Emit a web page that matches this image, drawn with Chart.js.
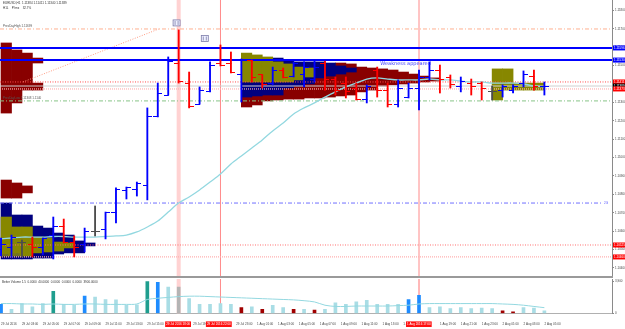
<!DOCTYPE html>
<html>
<head>
<meta charset="utf-8">
<script src="https://cdn.jsdelivr.net/npm/chart.js@4.4.0/dist/chart.umd.min.js"></script>
<style>
  body { margin: 0; background: #fff; }
  #wrap { position: relative; width: 625px; height: 329px; overflow: hidden; background: #fff; }
  #mainBox { position: absolute; left: 0; top: 0; width: 625px; height: 277px; }
  #volBox { position: absolute; left: 0; top: 278px; width: 625px; height: 51px; }
  #sep { position: absolute; left: 0; top: 276px; width: 613px; height: 2px; background: #9a9a9a; }
</style>
</head>
<body>
<div id="wrap">
  <div id="mainBox"><canvas id="main"></canvas></div>
  <div id="sep"></div>
  <div id="volBox"><canvas id="vol"></canvas></div>
</div>
<script>
// ===== EURUSD H1, 29 Jul 2016 01:00 -> 2 Aug 2016 05:00 =====
const opens = [1.10498,1.10514,1.10536,1.10530,1.10509,1.10574,1.10628,1.10536,1.10530,1.10596,
  1.10607,1.10699,1.10819,1.10829,1.10846,1.11226,1.11340,1.11514,1.11400,1.11291,
  1.11357,1.11509,1.11509,1.11454,1.11525,1.11449,1.11405,1.11476,1.11443,1.11449,
  1.11422,1.11514,1.11422,1.11400,1.11378,1.11313,1.11476,1.11367,1.11286,1.11324,
  1.11378,1.11433,1.11476,1.11438,1.11384,1.11405,1.11405,1.11357,1.11367,1.11367,
  1.11405,1.11443,1.11384];
const highs = [1.10563,1.10579,1.10552,1.10568,1.10563,1.10677,1.10666,1.10574,1.10617,1.10737,
  1.10704,1.10835,1.10840,1.10867,1.11270,1.11405,1.11547,1.11694,1.11465,1.11384,
  1.11520,1.11612,1.11574,1.11536,1.11530,1.11449,1.11492,1.11487,1.11520,1.11520,
  1.11525,1.11525,1.11438,1.11438,1.11405,1.11395,1.11492,1.11405,1.11422,1.11405,
  1.11476,1.11520,1.11503,1.11449,1.11438,1.11427,1.11411,1.11389,1.11395,1.11395,
  1.11471,1.11476,1.11411];
const lows = [1.10465,1.10460,1.10460,1.10460,1.10471,1.10449,1.10536,1.10460,1.10487,1.10574,
  1.10558,1.10645,1.10775,1.10791,1.10770,1.11221,1.11340,1.11405,1.11270,1.11291,
  1.11357,1.11498,1.11460,1.11302,1.11411,1.11378,1.11395,1.11433,1.11438,1.11384,
  1.11411,1.11367,1.11340,1.11324,1.11313,1.11297,1.11329,1.11275,1.11275,1.11324,
  1.11259,1.11422,1.11351,1.11378,1.11357,1.11340,1.11313,1.11313,1.11329,1.11351,
  1.11384,1.11367,1.11340];
const closes = [1.10525,1.10563,1.10536,1.10514,1.10558,1.10628,1.10536,1.10509,1.10601,1.10596,
  1.10704,1.10829,1.10835,1.10857,1.11221,1.11351,1.11520,1.11411,1.11275,1.11367,
  1.11498,1.11503,1.11460,1.11525,1.11438,1.11395,1.11476,1.11438,1.11514,1.11492,
  1.11487,1.11422,1.11367,1.11357,1.11318,1.11384,1.11362,1.11291,1.11378,1.11378,
  1.11433,1.11471,1.11427,1.11395,1.11416,1.11384,1.11378,1.11357,1.11384,1.11389,
  1.11449,1.11384,1.11389];
const maLine = [1.10558,1.10563,1.10568,1.10568,1.10568,1.10571,1.10571,1.10568,1.10568,1.10568,
  1.10571,1.10574,1.10579,1.10596,1.10623,1.10655,1.10704,1.10753,1.10786,1.10824,
  1.10867,1.10911,1.10965,1.11009,1.11052,1.11096,1.11145,1.11188,1.11237,1.11270,
  1.11297,1.11329,1.11357,1.11384,1.11405,1.11427,1.11433,1.11427,1.11422,1.11422,
  1.11422,1.11427,1.11422,1.11422,1.11416,1.11411,1.11411,1.11405,1.11405,1.11405,
  1.11400,1.11389,1.11384];

// Better Volume
const volumes = [1100,500,1200,800,1200,2700,1100,1000,2100,2000,
  1700,1650,1000,1050,3900,3800,3200,3200,1800,1100,
  1100,1200,1100,700,800,500,1000,700,500,500,
  400,500,1300,1100,1400,1600,1100,1100,1100,1700,
  2200,700,800,600,700,600,650,600,300,200,
  700,650,300];
const volKind = ['blue','light','light','light','light','teal','light','light','blue','light',
  'light','light','light','light','teal','blue','light','gray','light','light',
  'light','light','light','red','light','red','light','light','red','light',
  'red','light','light','light','light','light','light','light','light','blue',
  'blue','light','light','light','light','light','light','light','red','red',
  'light','light','light'];
const volMa = [1200,1200,1150,1150,1100,1150,1100,1100,1150,1150,
  1100,1100,1100,1150,1700,1850,1950,2050,2100,2100,
  2050,2000,1950,1900,1850,1800,1750,1700,1650,1550,
  1400,1000,850,850,900,900,900,900,950,1000,
  1150,1200,1200,1200,1200,1200,1200,1200,1150,1100,
  1000,850,700];

// volume profile blocks: [column, top price, bottom price]
const profRed = [
  [0,1.11623,1.11242],[1,1.11585,1.11297],[2,1.11568,1.11367],[3,1.11541,1.11514],[3,1.11405,1.11367],
  [0,1.10878,1.10780],[1,1.10862,1.10780],[2,1.10846,1.10808],
  [23,1.11329,1.11275],[24,1.11335,1.11286],[25,1.11340,1.11308],[26,1.11340,1.11313],[27,1.11378,1.11318],
  [28,1.11389,1.11318],[29,1.11400,1.11324],[30,1.11433,1.11324],[31,1.11443,1.11329],[32,1.11514,1.11335],
  [33,1.11509,1.11340],[34,1.11492,1.11357],[35,1.11487,1.11367],[36,1.11482,1.11389],[37,1.11476,1.11395],
  [38,1.11465,1.11400],[39,1.11454,1.11405],[40,1.11443,1.11411],[41,1.11433,1.11416]];
const profNavy = [
  [0,1.10753,1.10449],[1,1.10688,1.10449],[2,1.10688,1.10449],[3,1.10628,1.10454],[4,1.10617,1.10454],
  [5,1.10590,1.10476],[6,1.10579,1.10482],[7,1.10547,1.10482],[8,1.10536,1.10520],
  [23,1.11411,1.11329],[24,1.11411,1.11335],[25,1.11411,1.11340],[26,1.11541,1.11340],[27,1.11530,1.11378],
  [28,1.11520,1.11389],[29,1.11520,1.11400],[30,1.11520,1.11433],[31,1.11514,1.11443],[32,1.11498,1.11454],
  [33,1.11487,1.11465]];
const profOlive = [
  [0,1.10677,1.10465],[1,1.10623,1.10465],[2,1.10623,1.10465],[3,1.10568,1.10482],[4,1.10563,1.10487],
  [5,1.10541,1.10492],[6,1.10536,1.10509],
  [23,1.11568,1.11411],[24,1.11558,1.11411],[25,1.11547,1.11411],[26,1.11520,1.11411],[27,1.11509,1.11411],
  [28,1.11492,1.11422],[29,1.11487,1.11438],
  [47,1.11482,1.11313],[48,1.11482,1.11367],[49,1.11405,1.11367],[50,1.11405,1.11367],[51,1.11405,1.11367]];

// levels
const prevDayHigh = 1.11699, prevDayLow = 1.11308;
const zoneTop = 1.11596, zoneBottom = 1.11530;
const redLevel = 1.11411, grayLevel = 1.11389, pinkLevel = 1.11373;
const midLevel = 1.10753, lowRed = 1.10525, lowPink = 1.10460;
const trendLine = [[2.1, 1.11411], [15.1, 1.11699]];
const vLines = [17, 21, 40];
const arrowMarks = [[16.8, 1.11732], [19.5, 1.11647]];

const priceTicks = [1.104,1.105,1.106,1.107,1.108,1.109,1.110,1.111,1.112,1.113,1.114,1.115,1.116,1.117,1.118];
const timeTickPos = [0,2,4,6,8,10,12,14,15.8,18.4,19.7,22.5,24.5,26.5,28.5,30.5,32.5,34.5,36.5,38.5,38.85,42,44,46,48,50,52];
const timeTickText = ['29 Jul 2016','29 Jul 03:00','29 Jul 05:00','29 Jul 07:00','29 Jul 09:00','29 Jul 11:00',
  '29 Jul 13:00','29 Jul 15:00','29 Jul 2016 18:00','29 Jul 19:00','29 Jul 2016 22:00','29 Jul 23:00',
  '1 Aug 01:00','1 Aug 03:00','1 Aug 05:00','1 Aug 07:00','1 Aug 09:00','1 Aug 11:00','1 Aug 13:00',
  '1 Aug 15:00','1 Aug 2016 17:00','1 Aug 19:00','1 Aug 21:00','1 Aug 23:00','2 Aug 01:00','2 Aug 03:00','2 Aug 05:00'];
const redTimeTicks = [8, 10, 20];

const xMin = -0.1, xMax = 58.47;
const FONT = 'Liberation Sans';

// ===== helpers =====
const barKind = i => closes[i] > opens[i] ? 'up' : closes[i] < opens[i] ? 'down' : 'flat';
const barColors = { up: '#0000ff', down: '#ff0000', flat: '#4d4d4d' };

// small open/close tick drawn as point image (left or right of the bar)
function tickImg(color, left) {
  const c = document.createElement('canvas');
  c.width = 9; c.height = 1;
  const g = c.getContext('2d');
  g.fillStyle = color;
  g.fillRect(left ? 0 : 4, 0, 5, 1);
  return c;
}
const openImg = {}, closeImg = {};
for (const k in barColors) { openImg[k] = tickImg(barColors[k], true); closeImg[k] = tickImg(barColors[k], false); }

function hLine(price, color, width, dash, xEnd) {
  return { type: 'line', data: [{x: xMin, y: price}, {x: xEnd || xMax, y: price}],
    borderColor: color, borderWidth: width, borderDash: dash, pointRadius: 0, order: 4 };
}
function vLine(at, lo, hi, color, width) {
  return { type: 'line', data: [{x: at, y: lo}, {x: at, y: hi}],
    borderColor: color, borderWidth: width, pointRadius: 0, order: 5 };
}
function profile(blocks, color, order) {
  return { type: 'bar', data: blocks.map(b => ({x: b[0] + 0.5, y: [b[2], b[1]]})),
    backgroundColor: color, barThickness: 10.5, stack: 'all', order };
}

// ===== main chart texts =====
const mainText = {
  id: 'mainText',
  afterDatasetsDraw(chart) {
    const {ctx, chartArea} = chart;
    const x = chart.scales.x, y = chart.scales.y;
    ctx.save();
    ctx.textBaseline = 'middle';
    ctx.font = '3px "' + FONT + '"';
    ctx.fillStyle = '#333';
    ctx.fillText('EURUSD,H1  1.11384 1.11411 1.11340 1.11389', 3, 3.5);
    ctx.fillText('H1L    Pl:mx    32.7%', 3, 8);
    ctx.fillStyle = '#555';
    ctx.fillText('PrevDayHigh 1.11699', 3, y.getPixelForValue(prevDayHigh) - 3);
    ctx.fillText('PrevDayLow 1.11308 1.1140', 3, y.getPixelForValue(prevDayLow) - 2.5);
    ctx.fillText('pivot 1.10460', 2, y.getPixelForValue(lowPink) - 1.5);
    ctx.fillStyle = '#5555ff';
    ctx.fillText('2G', 604, y.getPixelForValue(midLevel));

    // arrow label boxes
    ctx.strokeStyle = '#7d7daa'; ctx.lineWidth = 0.8;
    arrowMarks.forEach(m => {
      const px = x.getPixelForValue(m[0]), py = y.getPixelForValue(m[1]);
      ctx.fillStyle = '#eef0ff';
      ctx.fillRect(px - 3.5, py - 3, 7, 6);
      ctx.strokeRect(px - 3.5, py - 3, 7, 6);
      ctx.beginPath();
      ctx.moveTo(px - 1.5, py - 2); ctx.lineTo(px - 1.5, py + 2);
      ctx.moveTo(px + 1.5, py - 2); ctx.lineTo(px + 1.5, py + 2);
      ctx.stroke();
    });

    // note
    ctx.font = '5px "DejaVu Sans"';
    ctx.fillStyle = '#3a3aff';
    ctx.fillText('Weakness appeared', x.getPixelForValue(36.3), y.getPixelForValue(1.11509));

    // price boxes on the axis
    const marks = [[zoneTop, '#0000ff'], [zoneBottom, '#0000ff'], [redLevel, '#ff0000'],
      [grayLevel, '#000000'], [pinkLevel, '#ff0000'], [lowRed, '#ff0000'], [lowPink, '#ff0000']];
    ctx.font = '3px "' + FONT + '"';
    marks.forEach(m => {
      const py = y.getPixelForValue(m[0]);
      ctx.fillStyle = m[1];
      ctx.fillRect(chartArea.right + 1, py - 2.5, 12, 5);
      ctx.fillStyle = '#fff';
      ctx.fillText(m[0].toFixed(5), chartArea.right + 2, py);
    });
    ctx.restore();
  }
};

const volText = {
  id: 'volText',
  afterDatasetsDraw(chart) {
    const {ctx} = chart;
    ctx.save();
    ctx.font = '3px "' + FONT + '"';
    ctx.fillStyle = '#333';
    ctx.textBaseline = 'middle';
    ctx.fillText('Better Volume 1.5  0.0000  40.0000  0.0000  0.0000  0.0000  3900.0000', 2, 4.5);
    ctx.restore();
  }
};

const idx = opens.map((_, i) => i);
const priceMin = 1.10351, priceMax = 1.118565;

// ===== main chart =====
new Chart(document.getElementById('main'), {
  type: 'line',
  data: {
    datasets: [
      { type: 'line', data: idx.map(i => ({x: i, y: opens[i]})), showLine: false, pointRadius: 1,
        pointBorderWidth: 0, pointStyle: idx.map(i => openImg[barKind(i)]), order: 0 },
      { type: 'line', data: idx.map(i => ({x: i, y: closes[i]})), showLine: false, pointRadius: 1,
        pointBorderWidth: 0, pointStyle: idx.map(i => closeImg[barKind(i)]), order: 0 },
      { type: 'bar', data: idx.map(i => ({x: i, y: [lows[i], highs[i]]})),
        backgroundColor: idx.map(i => barColors[barKind(i)]), barThickness: 1.2, stack: 'all', order: 1 },
      { type: 'line', data: idx.map(i => ({x: i, y: maLine[i]})), borderColor: '#93d8e0',
        borderWidth: 1.3, pointRadius: 0, tension: 0.3, order: 3 },
      hLine(prevDayHigh, '#ffb090', 1, [4, 2, 1, 2]),
      hLine(zoneTop, '#0000ff', 2, []),
      hLine(zoneBottom, '#0000ff', 2, []),
      hLine(redLevel, '#ff5050', 1, [1, 1.5]),
      hLine(grayLevel, '#d0d0d0', 1, []),
      hLine(pinkLevel, '#ffb0b0', 1.2, [1, 1]),
      hLine(prevDayLow, '#88c488', 1, [4, 2, 1, 2]),
      hLine(midLevel, '#7070ff', 1, [4, 2, 1, 2], 57.6),
      hLine(lowRed, '#ff7070', 1, [1, 1.5]),
      hLine(lowPink, '#ffb0b0', 1.2, [1, 1]),
      { type: 'line', data: trendLine.map(p => ({x: p[0], y: p[1]})), borderColor: '#ff9a80',
        borderWidth: 1, borderDash: [1, 1.5], pointRadius: 0, order: 4 },
      vLine(vLines[0], priceMin, priceMax, '#ffd2d2', 4),
      vLine(vLines[1], priceMin, priceMax, '#ff8a8a', 1),
      vLine(vLines[2], priceMin, priceMax, '#ff9d9d', 1.2),
      profile(profOlive, '#878700', 7),
      profile(profNavy, '#00007f', 8),
      profile(profRed, '#890000', 9)
    ]
  },
  options: {
    responsive: true,
    maintainAspectRatio: false,
    animation: false,
    events: [],
    layout: { padding: 0, autoPadding: false },
    plugins: { legend: { display: false }, tooltip: { enabled: false } },
    scales: {
      x: { type: 'linear', min: xMin, max: xMax, offset: false, display: false },
      y: {
        type: 'linear', position: 'right', min: priceMin, max: priceMax, stacked: false,
        grid: { drawOnChartArea: false, tickLength: 2, color: '#888' },
        border: { display: true, color: '#8a8a8a', width: 1 },
        ticks: { font: { family: FONT, size: 3 }, color: '#444', padding: 1,
          callback: v => v.toFixed(5) },
        afterBuildTicks: s => { s.ticks = priceTicks.map(v => ({value: v})); },
        afterFit: s => { s.width = 13; s.paddingTop = 0; s.paddingBottom = 0; }
      }
    }
  },
  plugins: [mainText]
});

// ===== volume chart =====
const volColors = { light: '#a9dde5', teal: '#1f9e8e', blue: '#1e8cff', red: '#a00000', gray: '#b4b4b4' };
new Chart(document.getElementById('vol'), {
  type: 'line',
  data: {
    datasets: [
      { type: 'line', data: idx.map(i => ({x: i, y: volMa[i]})), borderColor: '#93d8e0',
        borderWidth: 1, pointRadius: 0, tension: 0.3, order: 1 },
      { type: 'bar', data: idx.map(i => ({x: i, y: volumes[i]})),
        backgroundColor: idx.map(i => volColors[volKind[i]]), barThickness: 3, order: 2 },
      vLine(vLines[0], 0, 4200, '#ffd2d2', 4),
      vLine(vLines[1], 0, 4200, '#ff8a8a', 1),
      vLine(vLines[2], 0, 4200, '#ff8a8a', 1.2)
    ]
  },
  options: {
    responsive: true,
    maintainAspectRatio: false,
    animation: false,
    events: [],
    layout: { padding: { top: 1, bottom: 2 }, autoPadding: false },
    plugins: { legend: { display: false }, tooltip: { enabled: false } },
    scales: {
      x: {
        type: 'linear', min: xMin, max: xMax, offset: false,
        grid: { display: false },
        border: { display: true, color: '#b0b0b0' },
        ticks: {
          autoSkip: false, maxRotation: 0, minRotation: 0, align: 'start', padding: 1,
          font: { family: FONT, size: 3 },
          color: c => redTimeTicks.includes(c.index) ? '#ffffff' : '#444',
          showLabelBackdrop: c => redTimeTicks.includes(c.index),
          backdropColor: '#ff1010', backdropPadding: 1,
          callback: (v, i) => timeTickText[i]
        },
        afterBuildTicks: s => { s.ticks = timeTickPos.map(v => ({value: v})); },
        afterFit: s => { s.paddingLeft = 0; s.paddingRight = 0; }
      },
      y: {
        type: 'linear', position: 'right', min: 0, max: 4200, stacked: false,
        grid: { drawOnChartArea: false, tickLength: 2, color: '#888' },
        border: { display: true, color: '#8a8a8a', width: 1 },
        ticks: { font: { family: FONT, size: 3 }, color: '#444', padding: 1 },
        afterBuildTicks: s => { s.ticks = [{value: 0}, {value: 3900}]; },
        afterFit: s => { s.width = 13; s.paddingTop = 0; s.paddingBottom = 0; }
      }
    }
  },
  plugins: [volText]
});
</script>
</body>
</html>
